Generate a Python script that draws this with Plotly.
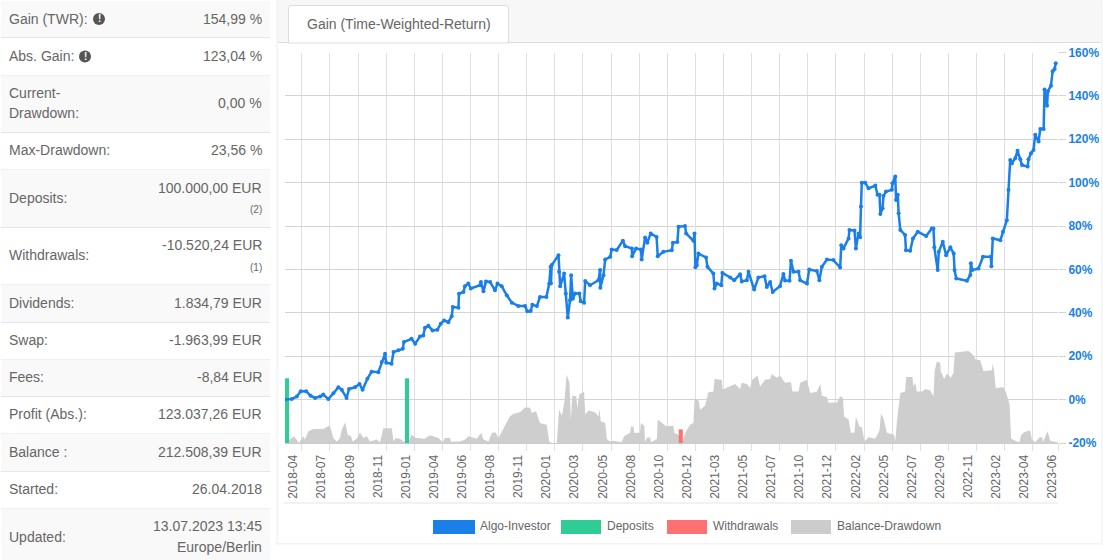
import plotly.graph_objects as go

FONT = "Liberation Sans, Arial, sans-serif"
W, H = 1103, 560

row_labels = ["Gain (TWR):", "Abs. Gain:", "Current-|Drawdown:", "Max-Drawdown:", "Deposits:", "Withdrawals:",
              "Dividends:", "Swap:", "Fees:", "Profit (Abs.):", "Balance :", "Started:", "Updated:"]
row_values = ["154,99 %", "123,04 %", "0,00 %", "23,56 %", "100.000,00 EUR", "-10.520,24 EUR",
              "1.834,79 EUR", "-1.963,99 EUR", "-8,84 EUR", "123.037,26 EUR", "212.508,39 EUR", "26.04.2018",
              "13.07.2023 13:45"]
row_subs = ["", "", "", "", "(2)", "(1)", "", "", "", "", "", "", "Europe/Berlin"]

tick_labels = ["2018-04", "2018-07", "2018-09", "2018-11", "2019-01", "2019-04", "2019-06", "2019-08", "2019-11",
               "2020-01", "2020-03", "2020-05", "2020-08", "2020-10", "2020-12", "2021-03", "2021-05", "2021-07",
               "2021-10", "2021-12", "2022-02", "2022-05", "2022-07", "2022-09", "2022-11", "2023-02", "2023-04",
               "2023-06"]

gain_week = [0, 2.4, 4.2, 5.6, 7.5, 9.1, 10.7, 12.5, 13.6, 15.4, 17.2, 19, 20.2, 21.9, 22.8, 24.9, 26.5, 27.6, 29.3,
             30.8, 33.2, 34.4, 35.6, 36, 37.9, 38.6, 40.3, 41.9, 42.3, 45, 46.3, 48, 49.2, 49.8, 51, 52.5, 54.2,
             55.4, 56.6, 58.1, 59.3, 59.7, 61.7, 61.9, 63.5, 64, 65.2, 66.1, 69.4, 69.7, 70.6, 71.5, 73, 74.7,
             75.6, 77.1, 78.9, 80.7, 83, 85.4, 86.2, 87.4, 88, 89.6, 90.7, 93, 94, 94.5, 94.6, 94.9, 97.3, 97.5,
             97.9, 99.3, 99.9, 100.6, 101.4, 101.8, 102.4, 103.2, 104.7, 105.2, 106.4, 106.8, 108.5, 111.5, 112.1,
             112.2, 113.3, 113.9, 115.7, 116.2, 118, 120.2, 121, 123.4, 123.5, 124.9, 126.6, 126.9, 128.1, 128.9,
             130.1, 132.2, 132.6, 134.6, 137.6, 138, 139.6, 140, 142.3, 142.7, 145.3, 145.7, 146, 146.5, 147.1,
             149.8, 150.3, 152.4, 152.8, 153.6, 155.2, 155.6, 158.4, 159.8, 161.9, 162.5, 164.3, 164.9, 166.9,
             168.4, 170.6, 171.4, 172.6, 173.5, 176.1, 177.3, 177.9, 179.5, 180, 180.9, 182.7, 183.3, 185.7, 186.5,
             189.2, 190.1, 191, 192.8, 195.1, 197.5, 197.9, 198.7, 200.5, 200.8, 202.6, 203.1, 204, 204.6, 204.9,
             205.2, 206.4, 207.6, 210, 210.8, 211.5, 211.8, 212.6, 212.9, 213.8, 215.9, 216.1, 217.1, 217.4, 218,
             218.3, 218.9, 220.6, 220.9, 222.4, 223.4, 225.1, 228.1, 230.1, 230.7, 231, 232.2, 232.6, 234, 235.2,
             236.7, 237.9, 238.2, 238.8, 242.6, 243.8, 244, 244.5, 246.7, 248.3, 251.1, 251.3, 251.8, 254.5, 255.4,
             256.8, 257.4, 258, 258.6, 259.8, 260.6, 261.6, 262.2, 264.2, 264.5, 265.4, 266.3, 266.9, 268.1, 268.7,
             269.9, 270.2, 271.1, 271.4, 272.5, 273.1, 273.8, 274.2]
gain_pct = [0, 0.3, 1.4, 3.9, 3.9, 1.8, 0.8, 1.4, 2.3, 0.3, 2.9, 5.7, 4.5, 0.8, 4.9, 5.7, 7.2, 4.5, 9.6,
            12.9, 12.6, 17.3, 21.1, 17, 16.5, 21.9, 22.7, 23.4, 26.5, 28, 25.7, 29.1, 29.6, 33.1, 34, 31.9, 32.2,
            35, 36.5, 35.7, 38.4, 42.7, 42.4, 48.8, 49.6, 52.3, 53.5, 51.2, 52.7, 54.2, 49.9, 54.5, 54.2, 50.4,
            53.5, 52.3, 48.1, 44.7, 43.1, 43.1, 40.7, 40.8, 43.7, 43.1, 47.3, 47.3, 53.5, 61.2, 53.5, 62, 66.6, 58.9,
            52.2, 58.1, 48.9, 37.8, 45.8, 57.3, 46.5, 48.9, 48.9, 45.3, 44.7, 54.7, 52.7, 55, 59.7,
            51.6, 57.3, 64.6, 65.8, 69.2, 69, 73.2, 70.7, 69.7, 66.1, 69.7, 69.2, 64.6, 74.7, 72.3,
            76.6, 75, 66.1, 68.1, 68.9, 72.3, 72.7, 79.7, 80, 76.6, 73.2, 76.6, 61, 61.9, 67.3,
            65.5, 61.2, 58.1, 51.2, 53.5, 52.7, 58.4, 56.3, 55, 57.8, 54.5, 55, 58.9, 50.7,
            56.3, 56.9, 51.9, 54.2, 49.6, 52.3, 57.9, 54.9, 54.8, 64, 58.9, 58.9, 55, 53.5, 60,
            59.3, 55, 61.2, 64.6, 64.3, 60.9, 71.2, 69.7, 74.3, 78.2, 77.9, 69.7, 76.6, 74.8, 89,
            100, 100, 97.4, 98.7, 94.4, 94.4, 85.6, 88.2, 93.9, 95.9, 96.7, 99.7, 102.8, 92, 94.4,
            85.9, 78.2, 75.9, 68.9, 68.6, 74.3, 77.4, 75.4, 78.9, 78.9, 70.2, 59.7, 68.2, 72.8, 66.6,
            70.2, 67.3, 59.7, 55.8, 54.8, 57.4, 62.8, 59.7, 60.4, 65.8, 65.8, 61.5, 74.3, 73.5, 77.4,
            82.7, 96.6, 110.5, 109, 111.3, 114.7, 110.8, 108.2, 107.4, 110.8, 113.6, 115.1, 122.1, 119, 124.7,
            124.7, 142.9, 135.5, 142.1, 144.7, 151.4, 152.4, 154.99]

drawdown_week = [0, 3.2, 5, 6.5, 7.1, 8.3, 10.1, 13.6, 14.8, 16, 17.2, 18.4, 19.6, 20.2, 21.4, 22.3, 23.5, 24, 25.5,
                 26.7, 27.9, 29.1, 30.2, 32.6, 33.8, 35, 38, 38.6, 39.4, 41, 42.1, 43.9, 45, 46.6, 48, 49.5, 51.6,
                 54.6, 56.1, 56.9, 58.7, 59, 62.3, 64.1, 65.2, 68.2, 69.8, 70.6, 72.4, 73.6, 75, 75.9, 77.5, 80,
                 81.3, 83.6, 85.4, 87.2, 87.8, 89.3, 90.7, 93.1, 94, 94.9, 96.7, 97.5, 98.5, 99.4, 100.2, 101.2,
                 101.7, 102.2, 103.6, 104, 104.7, 106.4, 106.8, 108, 110.3, 111.5, 111.9, 112.3, 113.9, 114.5, 115.6,
                 116.8, 119.8, 120.6, 122.8, 123.1, 124, 124.2, 126.3, 126.6, 127.8, 128.1, 128.7, 129.9, 130.2,
                 132.3, 132.6, 134.4, 135.6, 138.2, 138.5, 140, 141.2, 142.7, 144.1, 145.3, 145.7, 147.1, 147.7,
                 149.5, 150.6, 152.4, 152.8, 155.4, 155.7, 160.1, 161.9, 162.5, 164.3, 165.5, 166.1, 168.1, 169,
                 170.8, 172.6, 173.2, 175, 176.1, 177.9, 180, 180.5, 182.7, 183.3, 185.7, 186.8, 189.2, 190.4, 191,
                 192.8, 193.4, 196.3, 197.5, 198.5, 198.9, 200.5, 201.3, 202.6, 203.1, 204.4, 205.2, 206.2, 207.6,
                 210, 211.5, 212, 212.9, 214.1, 216.7, 217.1, 217.7, 218.9, 220.6, 221, 223.2, 223.6, 224.2, 224.8,
                 226.6, 227.8, 229.5, 230.7, 231.1, 231.9, 233.1, 233.3, 234.5, 235.5, 236.9, 237.8, 238.3, 243.2,
                 244.7, 245.7, 247.3, 248.5, 251.5, 251.7, 252.3, 252.8, 255.6, 256.6, 257.8, 258.3, 260.4, 261.3,
                 261.8, 263, 265.1, 265.7, 266.9, 268.5, 269.4, 269.6, 271.3, 272.2, 275]
drawdown_pct = [0, 1.7, 0, 1.7, 0.9, 3, 3.6, 3.6, 4.1, 4.4, 1.3, 0.4, 1.3, 3.4, 5.3, 2.1, 1.7, 0.4, 1.1,
                2.7, 1.3, 1.7, 0.4, 0.9, 0.2, 3.8, 3.8, 0.4, 1.3, 1, 0.4, 0.2, 2.1, 1.3, 1.3, 1, 2,
                1.3, 0.2, 1.3, 1.3, 0.3, 0.4, 0.9, 1.7, 1.1, 2.6, 0.9, 0.4, 2.6, 2.7, 1.2, 3.4, 6.8,
                7.5, 7.9, 9.1, 9, 7.7, 8.1, 5.1, 4.7, 0.4, 0, 0, 8.5, 7, 10.7, 17.5, 15.4,
                6, 12.1, 12, 9, 12.4, 13.1, 7.3, 8.3, 7.9, 6.8, 8.8, 5.6, 5.1, 1, 0.4,
                0.6, 0.2, 1.7, 2.6, 4.3, 4.1, 2.6, 2.6, 5.1, 4.4, 0.2, 1.3, 1.5, 0.2,
                1, 6, 5.1, 4.3, 4.4, 2.6, 2.1, 0.2, 3, 4.7, 5.1, 11.3, 11.1, 8.5,
                9.6, 13, 13.2, 16.4, 16.2, 13.7, 15.1, 13.8, 15.4, 15.1, 14.1, 16.1, 17.3, 14.5,
                16.2, 16.4, 17.7, 16.7, 17.3, 15.4, 15.6, 13.2, 13.2, 15.4, 16.2, 12.8, 13.1, 15.2, 12.1,
                11.8, 10.3, 10.4, 12, 11.5, 6.8, 6, 2.6, 2.6, 6.8, 4.1, 4.1, 0.4, 1.5,
                1.1, 3.2, 7.5, 6.4, 2.6, 2.1, 0.4, 5.6, 12.8, 13.2, 16.9, 16.9, 14.5, 15.4, 13.2,
                13.2, 13.8, 13.5, 12, 18.4, 20.9, 20.5, 18.4, 16.4, 17.8, 16.7, 17.9, 23.2, 23.56,
                22.6, 21.4, 21.2, 18.4, 18.6, 20.3, 18.4, 14.1, 14.3, 12.8, 9.8, 1.1, 0.4, 0.2,
                1.9, 2.8, 3.2, 0.9, 0.2, 1.5, 1.5, 0.2, 3, 0.6, 0.1]

deposit_week = [0.7, 43.4]
deposit_eur = [50000, 50000]
withdrawal_week = [140.8]
withdrawal_eur = [10520.24]

legend_names = ["Algo-Investor", "Deposits", "Withdrawals", "Balance-Drawdown"]
legend_colors = ["#1a7fe8", "#30cc96", "#ff7070", "#cccccc"]

tick_weeks = [3 + 10 * i for i in range(len(tick_labels))]
grid_weeks = [6 + 10 * i for i in range(27)] + [275]

fig = go.Figure()
fig.add_trace(go.Scatter(x=drawdown_week, y=drawdown_pct, yaxis="y", mode="lines", name="Balance-Drawdown",
                         line=dict(width=0), fill="tozeroy", fillcolor="rgba(204,204,204,0.97)"))
fig.add_trace(go.Bar(x=deposit_week, y=deposit_eur, yaxis="y2", name="Deposits", width=1.45,
                     marker=dict(color="#30cc96", line_width=0)))
fig.add_trace(go.Bar(x=withdrawal_week, y=withdrawal_eur, yaxis="y2", name="Withdrawals", width=1.45,
                     marker=dict(color="#ff7070", line_width=0)))
fig.add_trace(go.Scatter(x=gain_week, y=gain_pct, yaxis="y3", mode="lines+markers", name="Algo-Investor",
                         line=dict(color="#1a7fe8", width=2.5), marker=dict(color="#1a7fe8", size=4)))

shapes = []
ann = []


def text(x, y, s, size=14, color="#666666", anchor="left", bold=False):
    ann.append(dict(x=x / W, y=1 - y / H, xref="paper", yref="paper", text=f"<b>{s}</b>" if bold else s,
                    showarrow=False, xanchor=anchor, yanchor="middle", align=anchor, borderpad=0,
                    font=dict(family=FONT, size=size, color=color)))


def rect(x0, y0, x1, y1, fill, line=None, width=1):
    shapes.append(dict(type="rect", xref="paper", yref="paper", layer="below", x0=x0 / W, x1=x1 / W,
                       y0=1 - y0 / H, y1=1 - y1 / H, fillcolor=fill, line=dict(color=line or fill, width=width if line else 0)))


# sidebar table
row_edges = [1, 37.5, 75.5, 132.5, 169.5, 227.5, 284.5, 322.5, 359.5, 396.5, 433.5, 471.5, 508.5, 566]
for i, label in enumerate(row_labels):
    top, bot = row_edges[i], row_edges[i + 1]
    mid = (top + bot) / 2 - 0.7
    if i % 2 == 0:
        rect(1, top, 270, min(bot, H), "#f9f9f9")
    if i < len(row_labels) - 1:
        rect(1, bot - 0.5, 270, bot + 0.5, "#e4e6ec")
    parts = label.split("|")
    if len(parts) == 2:
        text(8, mid - 10, parts[0])
        text(8, mid + 10, parts[1])
    else:
        text(8, mid, label)
    sub = row_subs[i]
    if sub == "":
        text(263, mid, row_values[i], anchor="right")
    elif sub == "Europe/Berlin":
        text(263, mid - 11, row_values[i], anchor="right")
        text(263, mid + 10, sub, anchor="right")
    else:
        text(263, mid - 10, row_values[i], anchor="right")
        text(263, mid + 12, sub, size=10, anchor="right")

# info icons
for cx, cy in [(99, 19), (85, 56.5)]:
    shapes.append(dict(type="circle", xref="paper", yref="paper", layer="below", x0=(cx - 6) / W, x1=(cx + 6) / W,
                       y0=1 - (cy - 6) / H, y1=1 - (cy + 6) / H, fillcolor="#555555", line_width=0))
    text(cx, cy, "!", size=10, color="#ffffff", anchor="center", bold=True)

# card and tab
rect(276, 0, 1103, 545, "#f8f8f8")
rect(277, 0.5, 1102, 544, "#f3f3f3")
rect(278, 1, 1101, 543, "#ffffff")
rect(278, 1, 1101, 42, "#f7f7f7")
rect(278, 42, 1101, 43, "#dddddd")
shapes.append(dict(type="path", xref="paper", yref="paper", layer="below",
                   path=f"M {288.5 / W} {1 - 43 / H} L {288.5 / W} {1 - 8 / H} Q {288.5 / W} {1 - 5.5 / H} {291 / W} {1 - 5.5 / H} "
                        f"L {506 / W} {1 - 5.5 / H} Q {508.5 / W} {1 - 5.5 / H} {508.5 / W} {1 - 8 / H} L {508.5 / W} {1 - 43 / H} Z",
                   fillcolor="#ffffff", line=dict(color="#dddddd", width=1)))
text(398.5, 24, "Gain (Time-Weighted-Return)", anchor="center")

# bottom rule of the axis area
rect(284, 502.5, 1058, 503.5, "#e6e6e6")

# legend
legend_x = [(433, 475, 479), (561, 601, 606), (667, 707, 712), (791, 831, 836)]
for name, col, (a, b, t) in zip(legend_names, legend_colors, legend_x):
    rect(a, 520, b, 534, col)
    text(t, 525.5, name, size=12)

plot_x = [285 / W, 1058 / W]
plot_y = [1 - 443 / H, 1 - 52.5 / H]

fig.update_layout(
    width=W, height=H, autosize=False, margin=dict(l=0, r=0, t=0, b=0, pad=0),
    paper_bgcolor="#ffffff", plot_bgcolor="rgba(0,0,0,0)", showlegend=False, barmode="overlay",
    shapes=shapes, annotations=ann, hovermode=False,
    xaxis=dict(domain=plot_x, range=[0, 275], automargin=False, tickmode="array", tickvals=tick_weeks,
               ticktext=tick_labels, tickangle=-90, ticks="", ticklen=7, ticklabelstandoff=6, showgrid=False,
               zeroline=False, showline=True, linecolor="#cccccc",
               tickfont=dict(family=FONT, size=12, color="#666666"),
               minor=dict(tickmode="array", tickvals=grid_weeks, showgrid=True, gridcolor="#e0e0e0", gridwidth=1,
                          ticks="outside", ticklen=7, tickcolor="#e0e0e0")),
    yaxis=dict(domain=plot_y, range=[0, 100], visible=False, automargin=False),
    yaxis2=dict(domain=plot_y, range=[0, 301800], overlaying="y", visible=False, automargin=False),
    yaxis3=dict(domain=plot_y, range=[-20, 160], overlaying="y", side="right", anchor="x", automargin=False,
                tickmode="array", tickvals=list(range(-20, 161, 20)),
                ticktext=[f"{v}%" for v in range(-20, 161, 20)],
                ticks="outside", ticklen=7, tickcolor="#d4d4d4", gridcolor="#d4d4d4", gridwidth=1, showgrid=True,
                zeroline=False, showline=False,
                tickfont=dict(family=FONT, size=12, color="#1a7fe8", weight="bold")),
)

fig.write_html("out.html", config={"displayModeBar": False},
               post_script="document.body.style.margin='0';document.body.style.overflow='hidden';")
